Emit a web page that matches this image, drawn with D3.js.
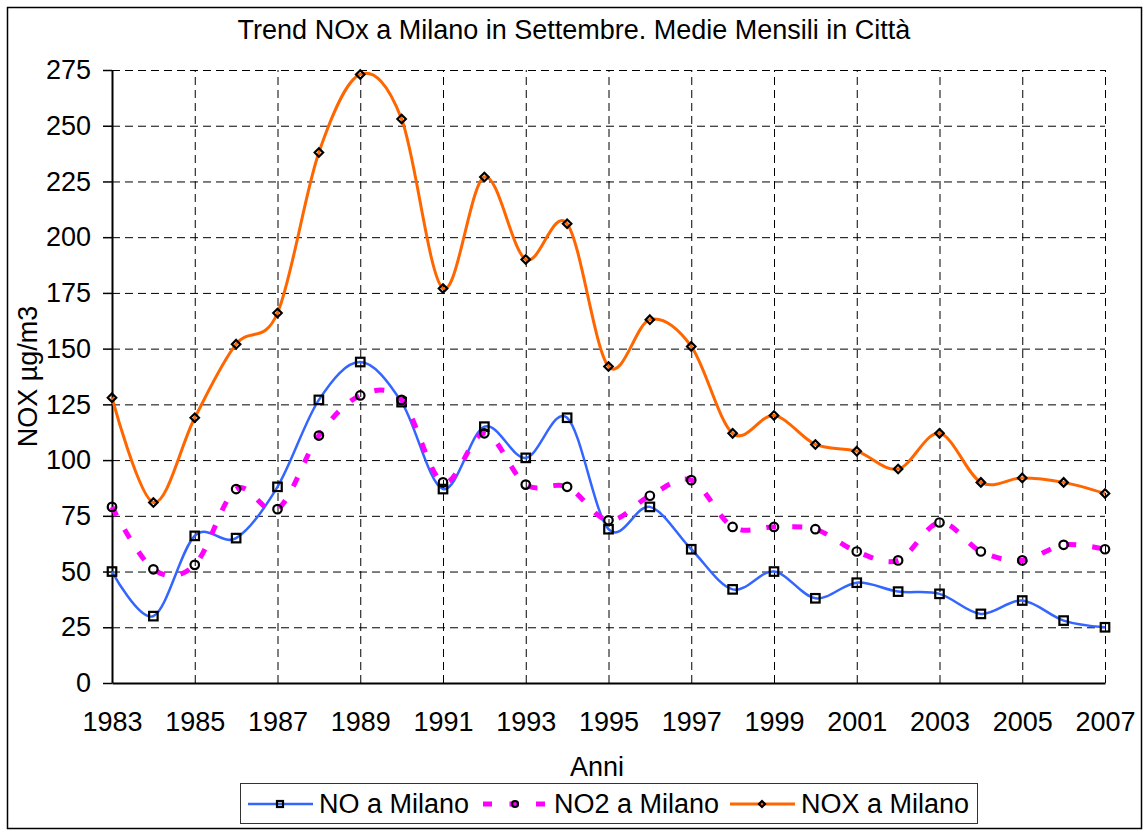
<!DOCTYPE html>
<html>
<head>
<meta charset="utf-8">
<script src="https://cdn.jsdelivr.net/npm/d3@7"></script>
<style>
    body { margin: 0; background: #fff; }
    svg text { font-family: "Liberation Sans", Arial, sans-serif; fill: #000; }
</style>
</head>
<body>
<script>
(function() {

    const width = 1144;
    const height = 832;
    const fontSize = "27px";

    // values
    const years = [1983, 1984, 1985, 1986, 1987, 1988, 1989, 1990, 1991, 1992, 1993, 1994, 1995,
                   1996, 1997, 1998, 1999, 2000, 2001, 2002, 2003, 2004, 2005, 2006, 2007];
    const noValues  = [50, 30, 66, 65, 88, 127, 144, 126, 87, 115, 101, 119, 69, 79, 60, 42, 50, 38, 45, 41, 40, 31, 37, 28, 25];
    const no2Values = [79, 51, 53, 87, 78, 111, 129, 127, 90, 112, 89, 88, 73, 84, 91, 70, 70, 69, 59, 55, 72, 59, 55, 62, 60];
    const noxValues = [128, 81, 119, 152, 166, 238, 273, 253, 177, 227, 190, 206, 142, 163, 151, 112, 120, 107, 104, 96, 112, 90, 92, 90, 85];
    const xTickLabels = [1983, 1985, 1987, 1989, 1991, 1993, 1995, 1997, 1999, 2001, 2003, 2005, 2007];
    const yTickLabels = [0, 25, 50, 75, 100, 125, 150, 175, 200, 225, 250, 275];
    const seriesNames = ["NO a Milano", "NO2 a Milano", "NOX a Milano"];

    const left = 112, right = 1105, top = 70, bottom = 683;

    let series = [
        { name: seriesNames[0], values: noValues,  color: "#3366ff", width: 2.5, dash: null,    marker: "square" },
        { name: seriesNames[1], values: no2Values, color: "#ff00ff", width: 5,   dash: "10,16", marker: "circle" },
        { name: seriesNames[2], values: noxValues, color: "#ff6600", width: 3,   dash: null,    marker: "diamond" }
    ];

    let x = d3.scaleLinear().domain([1983, 2007]).range([left, right]);
    let y = d3.scaleLinear().domain([0, 275]).range([bottom, top]);

    let svg = d3.select("body")
        .append("svg")
        .attr("width", width)
        .attr("height", height);

    // outer frame
    svg.append("rect")
        .attr("x", 7.5).attr("y", 7.5)
        .attr("width", 1134).attr("height", 821)
        .attr("fill", "#fff")
        .attr("stroke", "#000")
        .attr("stroke-width", 1.5);

    svg.append("text")
        .attr("x", 574).attr("y", 39)
        .attr("text-anchor", "middle")
        .style("font-size", fontSize)
        .text("Trend NOx a Milano in Settembre. Medie Mensili in Città");

    // dashed grid
    let hGrid = svg.append("g")
        .attr("transform", "translate(" + left + ",0)")
        .call(d3.axisLeft(y).tickValues(yTickLabels.slice(1)).tickSize(-(right - left)).tickFormat(""));
    let vGrid = svg.append("g")
        .attr("transform", "translate(0," + bottom + ")")
        .call(d3.axisBottom(x).tickValues(xTickLabels.slice(1)).tickSize(-(bottom - top)).tickFormat(""));
    [hGrid, vGrid].forEach(function(g) {
        g.select(".domain").remove();
        g.selectAll("line")
            .attr("stroke", "#000")
            .attr("stroke-width", 1)
            .attr("stroke-dasharray", "8,5");
    });

    // axes
    let yAxis = svg.append("g")
        .attr("transform", "translate(" + left + ",0)")
        .call(d3.axisLeft(y).tickValues(yTickLabels).tickSize(9).tickPadding(12).tickSizeOuter(0));
    yAxis.selectAll("text").style("font-size", fontSize);

    let xAxis = svg.append("g")
        .attr("transform", "translate(0," + bottom + ")")
        .call(d3.axisBottom(x).tickValues(xTickLabels).tickFormat(d3.format("d")).tickSize(0).tickPadding(29).tickSizeOuter(0));
    xAxis.selectAll("text").style("font-size", fontSize);

    [xAxis, yAxis].forEach(function(g) {
        g.select(".domain").attr("stroke", "#000").attr("stroke-width", 2);
        g.selectAll("line").attr("stroke", "#000").attr("stroke-width", 1.5);
    });

    svg.append("text")
        .attr("x", 597).attr("y", 776)
        .attr("text-anchor", "middle")
        .style("font-size", fontSize)
        .text("Anni");

    svg.append("text")
        .attr("transform", "translate(37," + ((top + bottom) / 2) + ") rotate(-90)")
        .attr("text-anchor", "middle")
        .style("font-size", fontSize)
        .text("NOX µg/m3");

    // excel-like smoothed lines
    let line = d3.line()
        .x(function(d, i) { return x(years[i]); })
        .y(function(d) { return y(d); })
        .curve(d3.curveCatmullRom.alpha(0));

    function drawMarker(g, type, size) {
        let h = size / 2;
        if (type == "square") {
            g.append("rect").attr("x", -h).attr("y", -h).attr("width", size).attr("height", size);
        } else if (type == "circle") {
            g.append("circle").attr("r", h);
        } else {
            g.append("path").attr("d", "M0," + (-h) + "L" + h + ",0L0," + h + "L" + (-h) + ",0Z");
        }
        g.selectAll("*")
            .attr("fill", "none")
            .attr("stroke", "#000")
            .attr("stroke-width", 2.2);
    }

    series.forEach(function(s) {
        svg.append("path")
            .datum(s.values)
            .attr("d", line)
            .attr("fill", "none")
            .attr("stroke", s.color)
            .attr("stroke-width", s.width)
            .attr("stroke-dasharray", s.dash);

        svg.selectAll(null)
            .data(s.values)
            .enter()
            .append("g")
            .attr("transform", function(d, i) { return "translate(" + x(years[i]) + "," + y(d) + ")"; })
            .each(function() { drawMarker(d3.select(this), s.marker, 8.5); });
    });

    // legend
    svg.append("rect")
        .attr("x", 240.5).attr("y", 783.5)
        .attr("width", 737).attr("height", 40)
        .attr("fill", "#fff")
        .attr("stroke", "#333")
        .attr("stroke-width", 1);

    let legendX = [248, 483, 730];
    series.forEach(function(s, i) {
        let g = svg.append("g").attr("transform", "translate(" + legendX[i] + ",804)");
        g.append("line")
            .attr("x1", 0).attr("x2", 65)
            .attr("stroke", s.color)
            .attr("stroke-width", s.dash ? 5 : s.width)
            .attr("stroke-dasharray", s.dash ? "9,17.5" : null);
        drawMarker(g.append("g").attr("transform", "translate(32,0)"), s.marker, 6);
        g.append("text")
            .attr("x", 71).attr("y", 9)
            .style("font-size", fontSize)
            .text(s.name);
    });

})();
</script>
</body>
</html>
